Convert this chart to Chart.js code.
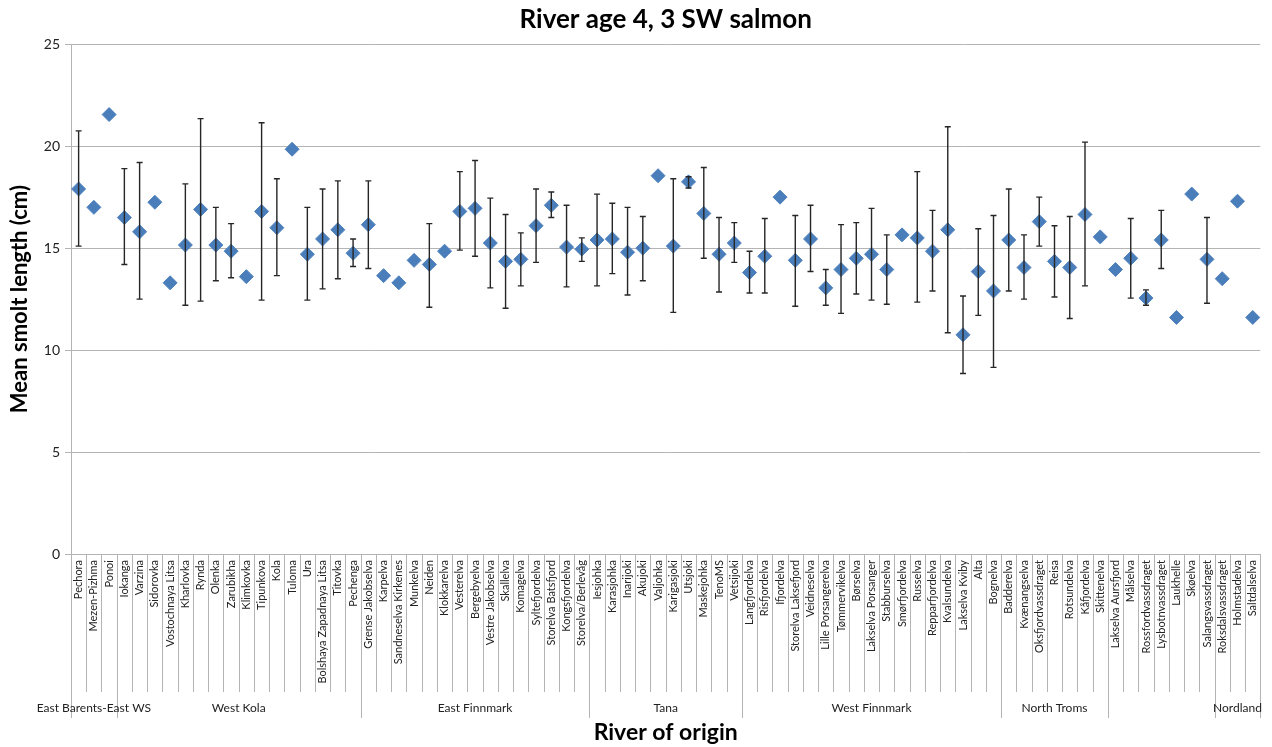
<!DOCTYPE html>
<html>
<head>
<meta charset="utf-8">
<script src="https://cdn.jsdelivr.net/npm/chart.js@4.4.0/dist/chart.umd.min.js"></script>
<style>
  html, body { margin: 0; padding: 0; background: #fff; }
  #wrap { width: 1272px; height: 747px; }
</style>
</head>
<body>
<div id="wrap"><canvas id="grafico"></canvas></div>
<script>
const rivers = [
  "Pechora", "Mezen-Pizhma", "Ponoi", "Iokanga", "Varzina", "Sidorovka",
  "Vostochnaya Litsa", "Kharlovka", "Rynda", "Olenka", "Zarubikha", "Klimkovka",
  "Tipunkova", "Kola", "Tuloma", "Ura", "Bolshaya Zapadnaya Litsa", "Titovka",
  "Pechenga", "Grense Jakobselva", "Karpelva", "Sandneselva Kirkenes", "Munkelva",
  "Neiden", "Klokkarelva", "Vesterelva", "Bergebyelva", "Vestre Jakobselva",
  "Skallelva", "Komagelva", "Syltefjordelva", "Storelva Batsfjord", "Kongsfjordelva",
  "Storelva/Berlevåg", "Iesjohka", "Karasjohka", "Inarijoki", "Akujoki", "Valjohka",
  "Karigasjoki", "Utsjoki", "Maskejohka", "TenoMS", "Vetsijoki", "Langfjordelva",
  "Risfjordelva", "Ifjordelva", "Storelva Laksefjord", "Veidneselva",
  "Lille Porsangerelva", "Tømmervikelva", "Børselva", "Lakselva Porsanger",
  "Stabburselva", "Smørfjordelva", "Russelva", "Repparfjordelva", "Kvalsundelva",
  "Lakselva Kviby", "Alta", "Bognelva", "Badderelva", "Kvænangselva",
  "Oksfjordvassdraget", "Reisa", "Rotsundelva", "Kåfjordelva", "Skittenelva",
  "Lakselva Aursfjord", "Målselva", "Rossfordvassdraget", "Lysbotnvassdraget",
  "Laukhelle", "Skøelva", "Salangsvassdraget", "Roksdalsvassdraget",
  "Holmstadelva", "Saltdalselva"
];

const meanLength = [
  17.9, 17.0, 21.55, 16.5, 15.8, 17.25, 13.3, 15.15, 16.9, 15.15, 14.85, 13.6,
  16.8, 16.0, 19.85, 14.7, 15.45, 15.9, 14.75, 16.15, 13.65, 13.3, 14.4, 14.2,
  14.85, 16.8, 16.95, 15.25, 14.35, 14.45, 16.1, 17.1, 15.05, 14.95, 15.4, 15.45,
  14.8, 15.0, 18.55, 15.1, 18.25, 16.7, 14.7, 15.25, 13.8, 14.6, 17.5, 14.4,
  15.45, 13.05, 13.95, 14.5, 14.7, 13.95, 15.65, 15.5, 14.85, 15.9, 10.75, 13.85,
  12.9, 15.4, 14.05, 16.3, 14.35, 14.05, 16.65, 15.55, 13.95, 14.5, 12.55, 15.4,
  11.6, 17.65, 14.45, 13.5, 17.3, 11.6
];

const upperLimit = [
  20.75, null, null, 18.9, 19.2, null, null, 18.15, 21.35, 17.0, 16.2, null,
  21.15, 18.4, null, 17.0, 17.9, 18.3, 15.45, 18.3, null, null, null, 16.2,
  null, 18.75, 19.3, 17.45, 16.65, 15.75, 17.9, 17.75, 17.1, 15.5, 17.65, 17.2,
  17.0, 16.55, null, 18.4, 18.5, 18.95, 16.5, 16.25, 14.85, 16.45, null, 16.6,
  17.1, 13.95, 16.15, 16.25, 16.95, 15.65, null, 18.75, 16.85, 20.95, 12.65, 15.95,
  16.6, 17.9, 15.65, 17.5, 16.1, 16.55, 20.2, null, null, 16.45, 12.95, 16.85,
  null, null, 16.5, null, null, null
];

const lowerLimit = [
  15.1, null, null, 14.2, 12.5, null, null, 12.2, 12.4, 13.4, 13.55, null,
  12.45, 13.65, null, 12.45, 13.0, 13.5, 14.1, 14.0, null, null, null, 12.1,
  null, 14.9, 14.6, 13.05, 12.05, 13.15, 14.3, 16.5, 13.1, 14.35, 13.15, 13.75,
  12.7, 13.4, null, 11.85, 17.95, 14.5, 12.85, 14.3, 12.8, 12.8, null, 12.15,
  13.85, 12.2, 11.8, 12.75, 12.45, 12.25, null, 12.35, 12.9, 10.85, 8.85, 11.7,
  9.15, 12.9, 12.5, 15.1, 12.6, 11.55, 13.15, null, null, 12.55, 12.2, 14.0,
  null, null, 12.3, null, null, null
];

const groupNames = ["East Barents-East WS", "West Kola", "East Finnmark", "Tana",
  "West Finnmark", "North Troms", "", "Nordland"];
const groupSizes = [3, 16, 15, 10, 17, 7, 7, 3];

const yTicks = [0, 5, 10, 15, 20, 25];

const corGrade = "#b4b4b4";
const fonte = "Lato, 'Open Sans', sans-serif";

// barras de erro desenhadas a partir das escalas
const barrasErro = {
  id: "barrasErro",
  afterDatasetsDraw(chart) {
    const ctx = chart.ctx;
    const x = chart.scales.x;
    const y = chart.scales.y;
    ctx.save();
    ctx.strokeStyle = "#262626";
    ctx.lineWidth = 1.4;
    rivers.forEach((r, i) => {
      if (upperLimit[i] == null) return;
      const px = x.getPixelForValue(i);
      const yTop = y.getPixelForValue(upperLimit[i]);
      const yBot = y.getPixelForValue(lowerLimit[i]);
      ctx.beginPath();
      ctx.moveTo(px, yTop);
      ctx.lineTo(px, yBot);
      ctx.moveTo(px - 3, yTop);
      ctx.lineTo(px + 3, yTop);
      ctx.moveTo(px - 3, yBot);
      ctx.lineTo(px + 3, yBot);
      ctx.stroke();
    });
    ctx.restore();
  }
};

// divisórias das categorias e nomes dos grupos
const grupos = {
  id: "grupos",
  afterDraw(chart) {
    const ctx = chart.ctx;
    const x = chart.scales.x;
    const area = chart.chartArea;
    const meio = (x.getPixelForValue(1) - x.getPixelForValue(0)) / 2;
    const borda = (i) => i < rivers.length ? x.getPixelForValue(i) - meio : x.getPixelForValue(rivers.length - 1) + meio;

    const limites = [0];
    groupSizes.forEach((n, g) => limites.push(limites[g] + n));

    ctx.save();
    ctx.strokeStyle = corGrade;
    ctx.lineWidth = 1;
    for (let i = 0; i <= rivers.length; i++) {
      const bx = Math.round(borda(i)) + 0.5;
      const fim = limites.includes(i) ? area.bottom + 164 : area.bottom + 138;
      ctx.beginPath();
      ctx.moveTo(bx, area.bottom);
      ctx.lineTo(bx, fim);
      ctx.stroke();
    }

    ctx.fillStyle = "#222";
    ctx.font = "12px " + fonte;
    ctx.textAlign = "center";
    ctx.textBaseline = "middle";
    groupNames.forEach((nome, g) => {
      if (!nome) return;
      const cx = (borda(limites[g]) + borda(limites[g + 1])) / 2;
      ctx.fillText(nome, cx, area.bottom + 154);
    });
    ctx.restore();
  }
};

new Chart(document.getElementById("grafico"), {
  type: "line",
  data: {
    labels: rivers,
    datasets: [
      {
        label: "Mean smolt length",
        data: meanLength,
        showLine: false,
        pointStyle: "rectRot",
        pointRadius: 7,
        backgroundColor: "#4a7ebb",
        borderColor: "#4f81bd",
        borderWidth: 1,
      },
    ],
  },
  options: {
    responsive: true,
    maintainAspectRatio: false,
    animation: false,
    events: [],
    layout: { padding: { left: 0, right: 7, top: 0, bottom: 0 } },
    plugins: {
      legend: { display: false },
      tooltip: { enabled: false },
      title: {
        display: true,
        text: "River age 4, 3 SW salmon",
        fullSize: false,
        color: "#000",
        font: { family: fonte, size: 26, weight: "bold" },
        padding: { top: 4, bottom: 9 },
      },
    },
    scales: {
      x: {
        type: "category",
        offset: true,
        grid: { display: true, drawOnChartArea: false, drawTicks: false, offset: true, color: "transparent" },
        border: { display: true, color: corGrade },
        ticks: {
          autoSkip: false,
          minRotation: 90,
          maxRotation: 90,
          padding: 6,
          color: "#222",
          font: { family: fonte, size: 11 },
        },
        title: {
          display: true,
          text: "River of origin",
          color: "#000",
          font: { family: fonte, size: 23, weight: "bold" },
          padding: { top: 0, bottom: 1 },
        },
        afterFit(scale) {
          scale.height = 193;
        },
      },
      y: {
        min: 0,
        max: 25,
        afterBuildTicks(scale) {
          scale.ticks = yTicks.map((v) => ({ value: v }));
        },
        grid: { color: corGrade, lineWidth: 1, tickLength: 6 },
        border: { display: true, color: corGrade },
        ticks: {
          padding: 5,
          color: "#222",
          font: { family: fonte, size: 14 },
        },
        title: {
          display: true,
          text: "Mean smolt length (cm)",
          color: "#000",
          font: { family: fonte, size: 22, weight: "bold" },
          padding: { top: 7, bottom: 0 },
        },
        afterFit(scale) {
          scale.width = 71;
        },
      },
    },
  },
  plugins: [barrasErro, grupos],
});
</script>
</body>
</html>
